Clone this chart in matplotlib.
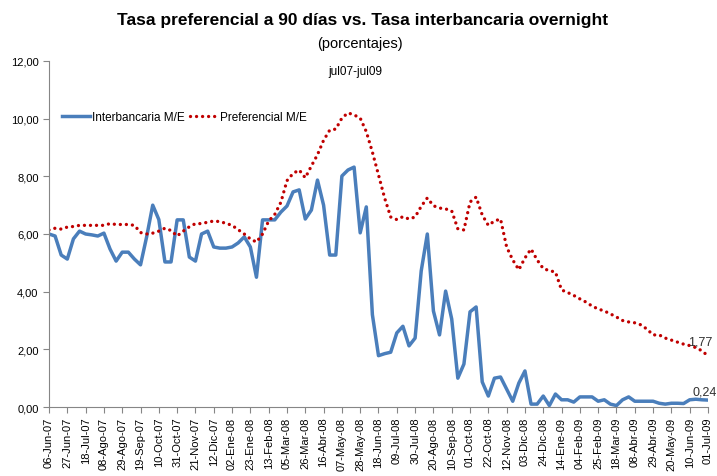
import matplotlib
matplotlib.use("Agg")
import matplotlib.pyplot as plt
import numpy as np

plt.rcParams['font.family'] = ['Liberation Sans', 'DejaVu Sans']

tick_labels = ["06-Jun-07", "27-Jun-07", "18-Jul-07", "08-Ago-07", "29-Ago-07", "19-Sep-07",
               "10-Oct-07", "31-Oct-07", "21-Nov-07", "12-Dic-07", "02-Ene-08", "23-Ene-08",
               "13-Feb-08", "05-Mar-08", "26-Mar-08", "16-Abr-08", "07-May-08", "28-May-08",
               "18-Jun-08", "09-Jul-08", "30-Jul-08", "20-Ago-08", "10-Sep-08", "01-Oct-08",
               "22-Oct-08", "12-Nov-08", "03-Dic-08", "24-Dic-08", "14-Ene-09", "04-Feb-09",
               "25-Feb-09", "18-Mar-09", "08-Abr-09", "29-Abr-09", "20-May-09", "10-Jun-09",
               "01-Jul-09"]

interbancaria = [6.00, 5.93, 5.27, 5.13, 5.83, 6.10, 6.00, 5.97, 5.93, 6.03,
                 5.48, 5.06, 5.37, 5.37, 5.13, 4.93, 5.90, 7.00, 6.50, 5.03,
                 5.03, 6.49, 6.49, 5.20, 5.06, 6.00, 6.10, 5.55, 5.51, 5.51,
                 5.55, 5.69, 5.90, 5.55, 4.50, 6.49, 6.49, 6.49, 6.76, 6.97,
                 7.46, 7.53, 6.52, 6.83, 7.87, 7.00, 5.27, 5.27, 8.01, 8.22,
                 8.32, 6.04, 6.94, 3.20, 1.78, 1.85, 1.90, 2.57, 2.80, 2.12,
                 2.39, 4.72, 6.00, 3.33, 2.50, 4.02, 3.05, 1.00, 1.49, 3.30,
                 3.47, 0.87, 0.38, 1.00, 1.04, 0.62, 0.20, 0.83, 1.25, 0.10,
                 0.10, 0.38, 0.05, 0.45, 0.25, 0.25, 0.17, 0.35, 0.35, 0.35,
                 0.20, 0.25, 0.10, 0.05, 0.25, 0.35, 0.20, 0.20, 0.20, 0.20,
                 0.13, 0.10, 0.13, 0.13, 0.12, 0.25, 0.27, 0.25, 0.24]

preferencial = [6.14, 6.20, 6.17, 6.24, 6.26, 6.30, 6.30, 6.30, 6.30, 6.30,
                6.36, 6.33, 6.33, 6.33, 6.30, 6.05, 6.00, 6.03, 6.10, 6.20,
                6.12, 5.93, 6.10, 6.25, 6.36, 6.36, 6.41, 6.45, 6.43, 6.37,
                6.30, 6.15, 6.00, 5.83, 5.72, 6.00, 6.45, 6.68, 7.10, 7.85,
                8.10, 8.22, 7.95, 8.36, 8.75, 9.25, 9.60, 9.64, 10.02, 10.20,
                10.13, 10.02, 9.55, 8.84, 8.05, 7.25, 6.59, 6.50, 6.60, 6.52,
                6.59, 6.96, 7.25, 6.98, 6.90, 6.87, 6.80, 6.18, 6.14, 7.11,
                7.28, 6.66, 6.30, 6.45, 6.52, 5.55, 5.10, 4.76, 5.17, 5.48,
                5.10, 4.80, 4.73, 4.68, 4.06, 3.97, 3.87, 3.75, 3.64, 3.50,
                3.40, 3.33, 3.23, 3.12, 3.00, 2.95, 2.92, 2.85, 2.70, 2.50,
                2.50, 2.39, 2.32, 2.25, 2.18, 2.13, 2.06, 1.95, 1.77]

x = np.arange(len(interbancaria))

fig = plt.figure(figsize=(7.17, 4.77), dpi=100)
ax = fig.add_axes([49/717, 1 - 408/477, (708 - 49)/717, (408 - 62)/477])

ax.plot(x, interbancaria, color='#4A7EBB', lw=2.5, solid_joinstyle='round',
        label='Interbancaria M/E')
ax.plot(x, preferencial, color='#C00000', lw=2.4, linestyle=(0, (0.01, 1.8)),
        dash_capstyle='round', label='Preferencial M/E')

ax.set_xlim(0, len(x) - 1)
ax.set_ylim(0, 12)
ax.set_yticks(np.arange(0, 13, 2))
ax.set_yticklabels([f"{v:.2f}".replace('.', ',') for v in np.arange(0, 13, 2)], fontsize=8)
ax.set_xticks(np.arange(0, len(x), 3))
ax.set_xticklabels(tick_labels, rotation=90, fontsize=8)

for s in ['top', 'right']:
    ax.spines[s].set_visible(False)
for s in ['left', 'bottom']:
    ax.spines[s].set_color('#868686')
ax.tick_params(axis='both', colors='#868686', length=4, width=0.8, labelcolor='black')
ax.tick_params(axis='x', pad=3)

ax.annotate(f"{preferencial[-1]:.2f}".replace('.', ','), xy=(x[-1], preferencial[-1]),
            xytext=(-14, 8), textcoords='offset points', fontsize=9, color='#303030')
ax.annotate(f"{interbancaria[-1]:.2f}".replace('.', ','), xy=(x[-1], interbancaria[-1]),
            xytext=(-11, 4), textcoords='offset points', fontsize=9, color='#303030')

fig.text(363/717, 1 - 20/477, "Tasa preferencial a 90 días vs. Tasa interbancaria overnight",
         ha='center', va='center', fontsize=12.5, fontweight='bold')
fig.text(360/717, 1 - 44/477, "(porcentajes)", ha='center', va='center', fontsize=10.5)
fig.text(355/717, 1 - 72/477, "jul07-jul09", ha='center', va='center', fontsize=8.5)

leg = ax.legend(loc='upper left', bbox_to_anchor=(0.012, 0.87), ncol=2, frameon=False,
                fontsize=8.5, handlelength=2.4, handletextpad=0.2, columnspacing=0.4,
                borderaxespad=0)

fig.savefig("out.png", dpi=100)
